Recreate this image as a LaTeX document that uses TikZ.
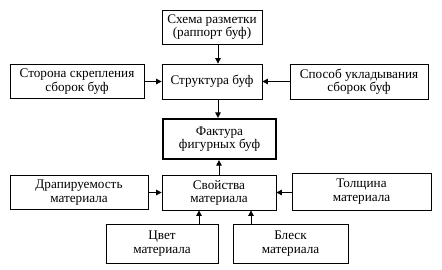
\documentclass[tikz,border=0pt]{standalone}
\usepackage{fontspec}
\setmainfont{Liberation Serif}
\newfontfamily\serifcyr{Liberation Serif}
\usetikzlibrary{arrows.meta}
\begin{document}
\begin{tikzpicture}[x=1pt,y=-1pt,
  box/.style={draw, line width=0.8pt, inner sep=0pt, align=center,
    font=\serifcyr\fontsize{13.2}{13.2}\selectfont},
  bold/.style={box, line width=2.2pt},
  arr/.style={line width=0.8pt, -{Triangle[length=5.5pt,width=5.5pt]}}]
\useasboundingbox (0,0) rectangle (442,269);
\node[box, minimum width=100pt, minimum height=34pt] (schema) at (212,27) {Схема разметки\\(раппорт буф)};
\node[box, minimum width=100pt, minimum height=35pt] (struct) at (212,81.5) {Структура буф};
\node[box, minimum width=134pt, minimum height=34pt] (side) at (77,81.5) {Сторона скрепления\\сборок буф};
\node[box, minimum width=138pt, minimum height=35pt] (method) at (359,81.5) {Способ укладывания\\сборок буф};
\node[bold, minimum width=113pt, minimum height=40pt] (fakt) at (219.5,139) {Фактура\\фигурных буф};
\node[box, minimum width=114pt, minimum height=35pt] (props) at (219,192.5) {Свойства\\материала};
\node[box, minimum width=138pt, minimum height=34pt] (drape) at (79,192.5) {Драпируемость\\материала};
\node[box, minimum width=139pt, minimum height=37pt] (thick) at (361.5,191.5) {Толщина\\материала};
\node[box, minimum width=112pt, minimum height=39pt] (color) at (162,243.5) {Цвет\\материала};
\node[box, minimum width=115pt, minimum height=39pt] (shine) at (290.5,243.5) {Блеск\\материала};
\coordinate (ax) at (218,0);
\coordinate (bx) at (219,0);
\coordinate (cx) at (199,0);
\coordinate (dx) at (251,0);
\draw[arr] (schema.south -| ax) -- (struct.north -| ax);
\draw[arr] (struct.south -| ax) -- (fakt.north -| ax);
\draw[arr] (props.north -| bx) -- (fakt.south -| bx);
\draw[arr] (side.east) -- (struct.west);
\draw[arr] (method.west) -- (struct.east);
\draw[arr] (drape.east) -- (props.west);
\draw[arr] (thick.west |- props) -- (props.east);
\draw[arr] (color.north -| cx) -- (props.south -| cx);
\draw[arr] (shine.north -| dx) -- (props.south -| dx);
\end{tikzpicture}
\end{document}
